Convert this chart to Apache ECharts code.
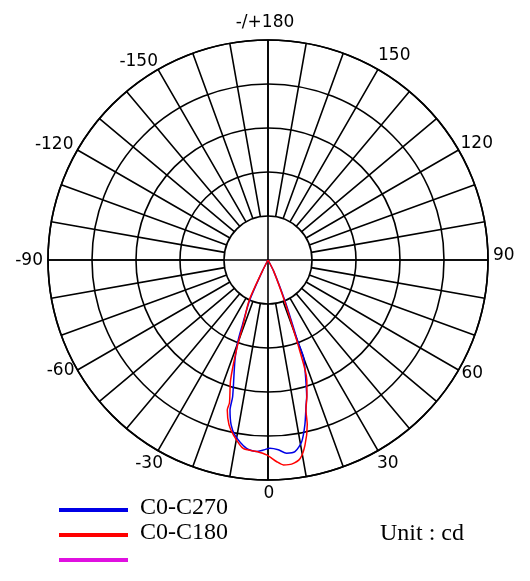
<!DOCTYPE html>
<html>
<head>
<meta charset="utf-8">
<script src="https://cdn.jsdelivr.net/npm/echarts@6/dist/echarts.min.js"></script>
<style>
html,body{margin:0;padding:0;background:#fff;}
#chart{width:530px;height:581px;}
</style>
</head>
<body>
<div id="chart"></div>
<script>
// Angle tick labels (degrees)
const angleTicks = [-180, -150, -120, -90, -60, -30, 0, 30, 60, 90, 120, 150];
const angleTickLabels = ['-/+180', '-150', '-120', '-90', '-60', '-30', '0', '30', '60', '90', '120', '150'];

// C0-C270 (blue): angle (deg) and intensity (cd)
const c270Angles = [-28, -26.8, -24.5, -21.5, -20.4, -18.3, -14.5, -14.2, -12.6, -10.7, -6.5, -3.4, -1.4, 0.6, 3.1, 5.5, 8.0, 10.5, 12.6, 14.7, 15.8, 18.6, 20.1, 20.1, 20.8, 22.5, 26.8, 28];
const c270Values = [0, 29, 100, 159, 194, 239, 321, 352, 384, 405, 431, 436, 432, 428, 432, 441, 440, 420, 384, 341, 323, 264, 234, 194, 157, 101, 29, 0];

// C0-C180 (red)
const c180Angles = [-28, -26.8, -25, -21, -19.5, -17.3, -15.1, -15.2, -13.3, -11.2, -7.5, -3.4, -0.4, 2.5, 4.3, 6.6, 9.2, 11.3, 13.4, 14.2, 16.1, 17.9, 19.4, 20.3, 22, 26.8, 28];
const c180Values = [0, 29, 102, 158, 211, 286, 336, 353, 385, 405, 432, 436, 443, 459, 467, 467, 457, 429, 385, 352, 319, 287, 212, 157, 101, 29, 0];

const seriesNames = ['C0-C270', 'C0-C180', ''];
const seriesColors = ['#0000e6', '#ff0000', '#e010e0'];

const radiusMax = 500;
const radiusStep = 100;

const chart = echarts.init(document.getElementById('chart'), null, {renderer: 'canvas'});

const CX = 268, CY = 260, R = 220;
const gridStyle = {color: '#000', width: 1.6};

function pairs(angles, values) {
  return angles.map((a, i) => [values[i], a]);
}

// label placement style (align + pixel nudge) for each tick label
const labelStyleFor = {
  '-180': {align: 'center', offset: [-3, -17]},
  '150':  {align: 'left',   offset: [0, -14]},
  '120':  {align: 'left',   offset: [2, -6]},
  '90':   {align: 'left',   offset: [5, -4]},
  '60':   {align: 'left',   offset: [3, 4]},
  '30':   {align: 'left',   offset: [-1, 13]},
  '0':    {align: 'center', offset: [1, 14]},
  '-30':  {align: 'right',  offset: [5, 13]},
  '-60':  {align: 'right',  offset: [-3, 1]},
  '-90':  {align: 'right',  offset: [-5, 1]},
  '-120': {align: 'right',  offset: [-4, -5]},
  '-150': {align: 'right',  offset: [0, -8]}
};

const labelData = angleTicks.map((t, i) => {
  const st = labelStyleFor[String(t)];
  return {
    value: [radiusMax, t],
    label: {
      show: true, position: 'top', distance: 0, formatter: angleTickLabels[i],
      align: st.align, verticalAlign: 'middle', offset: st.offset,
      color: '#000', textBorderWidth: 0,
      fontFamily: 'DejaVu Sans', fontSize: 17
    }
  };
});

const legendGraphics = [];
seriesNames.forEach((n, i) => {
  const y = 510 + i * 25;
  legendGraphics.push({
    type: 'line', shape: {x1: 59, y1: y, x2: 128, y2: y},
    style: {stroke: seriesColors[i], lineWidth: 4}
  });
  if (n) {
    legendGraphics.push({
      type: 'text', left: 140, top: y - 14,
      style: {text: n, font: '24px "Liberation Serif"', fill: '#000'}
    });
  }
});
legendGraphics.push({
  type: 'text', left: 380, top: 522,
  style: {text: 'Unit : cd', font: '24px "Liberation Serif"', fill: '#000'}
});

const option = {
  backgroundColor: '#fff',
  animation: false,
  polar: [
    {center: [CX, CY], radius: [0, R]},
    {center: [CX, CY], radius: [R / 5, R]}
  ],
  angleAxis: [
    {
      polarIndex: 0, type: 'value', min: -180, max: 180, interval: 90,
      startAngle: 90, clockwise: false,
      axisLine: {show: true, lineStyle: gridStyle},
      axisTick: {show: false}, axisLabel: {show: false},
      splitLine: {show: true, lineStyle: gridStyle}
    },
    {
      polarIndex: 1, type: 'value', min: -180, max: 180, interval: 10,
      startAngle: 90, clockwise: false,
      axisLine: {show: false},
      axisTick: {show: false},
      axisLabel: {show: false},
      splitLine: {show: true, lineStyle: gridStyle}
    }
  ],
  radiusAxis: [
    {
      polarIndex: 0, type: 'value', min: 0, max: radiusMax, interval: radiusStep,
      axisLine: {show: false}, axisTick: {show: false}, axisLabel: {show: false},
      splitLine: {show: true, lineStyle: gridStyle}
    },
    {
      polarIndex: 1, type: 'value', min: 0, max: 1,
      axisLine: {show: false}, axisTick: {show: false}, axisLabel: {show: false},
      splitLine: {show: false}
    }
  ],
  series: [
    {
      name: 'angleLabels', type: 'scatter', coordinateSystem: 'polar', polarIndex: 0,
      symbolSize: 0, silent: true, data: labelData,
      itemStyle: {color: '#000', opacity: 1},
      z: 10
    },
    {
      name: seriesNames[0], type: 'line', coordinateSystem: 'polar', polarIndex: 0,
      data: pairs(c270Angles, c270Values), showSymbol: false, smooth: 0.25,
      lineStyle: {color: seriesColors[0], width: 1.5}, z: 5
    },
    {
      name: seriesNames[1], type: 'line', coordinateSystem: 'polar', polarIndex: 0,
      data: pairs(c180Angles, c180Values), showSymbol: false, smooth: 0.25,
      lineStyle: {color: seriesColors[1], width: 1.5}, z: 6
    }
  ],
  graphic: legendGraphics
};
chart.setOption(option);
</script>
</body>
</html>
